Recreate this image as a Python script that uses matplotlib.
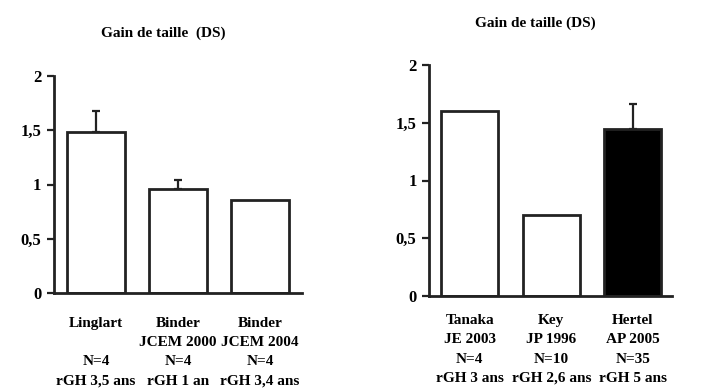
import matplotlib.pyplot as plt
import matplotlib.transforms as mtransforms

# left panel: published series
left_authors = ["Linglart", "Binder", "Binder"]
left_refs = ["", "JCEM 2000", "JCEM 2004"]
left_n = ["N=4", "N=4", "N=4"]
left_rgh = ["rGH 3,5 ans", "rGH 1 an", "rGH 3,4 ans"]
left_values = [1.48, 0.96, 0.86]
left_err = [0.20, 0.08, 0.0]
left_colors = ["white", "white", "white"]

# right panel
right_authors = ["Tanaka", "Key", "Hertel"]
right_refs = ["JE 2003", "JP 1996", "AP 2005"]
right_n = ["N=4", "N=10", "N=35"]
right_rgh = ["rGH 3 ans", "rGH 2,6 ans", "rGH 5 ans"]
right_values = [1.60, 0.70, 1.45]
right_err = [0.0, 0.0, 0.21]
right_colors = ["white", "white", "black"]

y_ticks = [0, 0.5, 1, 1.5, 2]
y_tick_labels = ["0", "0,5", "1", "1,5", "2"]

plt.rcParams['font.family'] = ['Liberation Serif', 'DejaVu Serif']
plt.rcParams['font.weight'] = 'bold'

fig = plt.figure(figsize=(7.1, 3.92), dpi=100)
fig.patch.set_facecolor('white')

ink = '#222222'


def draw_panel(ax, authors, refs, ns, rghs, values, errs, colors, title, title_pos, pad):
    x = list(range(len(values)))
    ax.bar(x, values, width=0.7, color=colors, edgecolor=ink, linewidth=2, zorder=2)
    for xi, v, e in zip(x, values, errs):
        if e > 0:
            ax.errorbar([xi], [v], yerr=[[0], [e]], fmt='none', ecolor=ink,
                        elinewidth=1.6, capsize=3, capthick=1.6, zorder=1)
    # category labels under the axis, four lines each
    ax.set_xticks([])
    trans = mtransforms.offset_copy(ax.get_xaxis_transform(), fig=fig, y=-pad, units='points')
    for xi, a, r, n, g in zip(x, authors, refs, ns, rghs):
        ax.text(xi, 0, "\n".join([a, r, n, g]), transform=trans, ha='center', va='top',
                fontsize=11, linespacing=1.63, clip_on=False)
    ax.set_yticks(y_ticks)
    ax.set_yticklabels(y_tick_labels, fontsize=12)
    ax.tick_params(axis='y', length=5, width=1.6, color=ink, pad=4)
    ax.set_xlim(-0.51, 2.51)
    ax.set_ylim(0, 2)
    for s in ['top', 'right']:
        ax.spines[s].set_visible(False)
    for s in ['left', 'bottom']:
        ax.spines[s].set_linewidth(2)
        ax.spines[s].set_color(ink)
    ax.set_facecolor('white')
    fig.text(*title_pos, title, fontsize=11, ha='center', va='center')


ax1 = fig.add_axes([54 / 710, 1 - 293 / 392, 248 / 710, 217 / 392])
draw_panel(ax1, left_authors, left_refs, left_n, left_rgh, left_values, left_err,
           left_colors, "Gain de taille  (DS)", (163 / 710, 1 - 33 / 392), 17)

ax2 = fig.add_axes([429 / 710, 1 - 296 / 392, 243 / 710, 231 / 392])
draw_panel(ax2, right_authors, right_refs, right_n, right_rgh, right_values, right_err,
           right_colors, "Gain de taille (DS)", (535 / 710, 1 - 23 / 392), 13)
ax2.set_xlim(-0.5, 2.48)

fig.savefig('out.png', dpi=100, facecolor='white')
